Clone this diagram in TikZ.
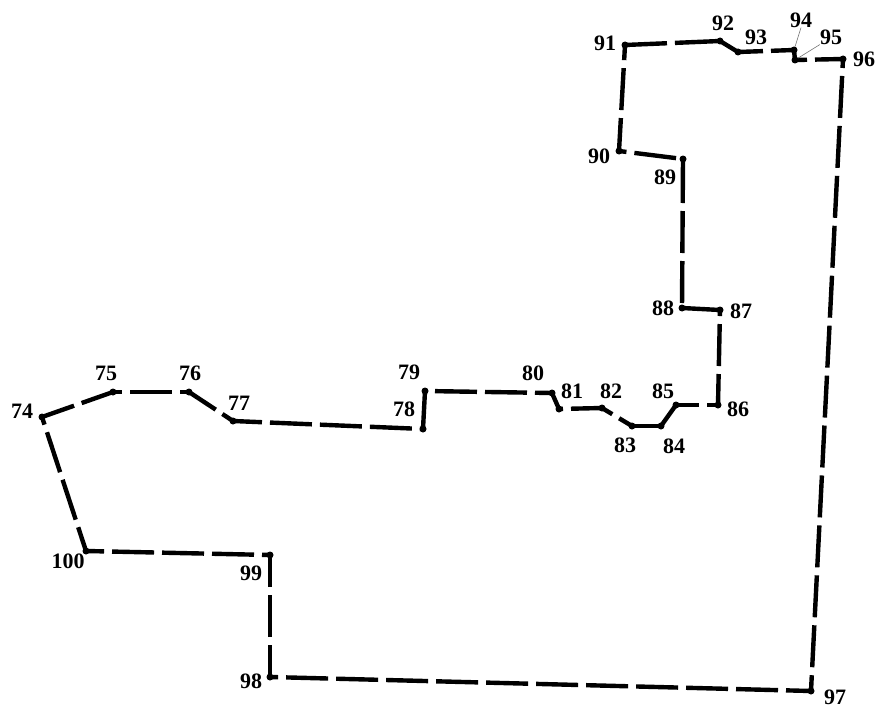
\documentclass[tikz,border=0pt]{standalone}
\usepackage{fontspec}
\setmainfont{Liberation Serif}
\begin{document}
\begin{tikzpicture}[x=1pt,y=-1pt,
  dot/.style={circle,fill=black,inner sep=0pt,minimum size=7pt},
  lab/.style={inner sep=0pt,font=\fontsize{22}{22}\selectfont\bfseries},
  solidseg/.style={line width=4.4pt},
  gapat/.style={line width=4.4pt,dash pattern=on 42pt off 8pt,dash phase={92pt-#1pt}},
  leader/.style={line width=0.6pt,draw=black!55}]
\useasboundingbox (0,0) rectangle (876,709);
\foreach \n/\x/\y in {74/42/417,75/113/392,76/189/392,77/233/421,78/423/429,79/425/391,80/552/393,81/559/409,82/602/408,83/632/426,84/661/426,85/676/405,86/718/405,87/720/310,88/682/308,89/683/159,90/619/151,91/625/45,92/720/41,93/738/52,94/794/50,95/795/60,96/843/59,97/811/691,98/270/677,99/270/555,100/86/551}
  \node[dot] (n\n) at (\x,\y) {};
\foreach \n/\x/\y in {74/22/411,75/106/373,76/190/373,77/239/403,78/404/409,79/409/372,80/533/373,81/572/391,82/611/391,83/625/445,84/674/446,85/663/391,86/738/409,87/741/311,88/663/308,89/665/177,90/599/156,91/605/43,92/723/23,93/756/37,94/801/20,95/831/37,96/864/59,97/835/697,98/251/681,99/251/573,100/68/561}
  \node[lab] (l\n) at (\x,\y) {\n};
\foreach \a/\b/\d in {74/75/34,75/76/9,76/77/32,77/78/29,79/80/2,81/82/4,82/83/12,85/86/23,86/87/31,88/89/47,89/90/49,90/91/33,91/92/42,93/94/25,95/96/12,96/97/9,97/98/25,98/99/32,99/100/8,100/74/25}
  \draw[gapat=\d] (n\a.center) -- (n\b.center);
\foreach \a/\b in {78/79,80/81,83/84,84/85,87/88,92/93,94/95}
  \draw[solidseg] (n\a.center) -- (n\b.center);
\draw[leader] (l94.south) -- (n94);
\draw[leader] (l95.south west) -- (n95);
\end{tikzpicture}
\end{document}
